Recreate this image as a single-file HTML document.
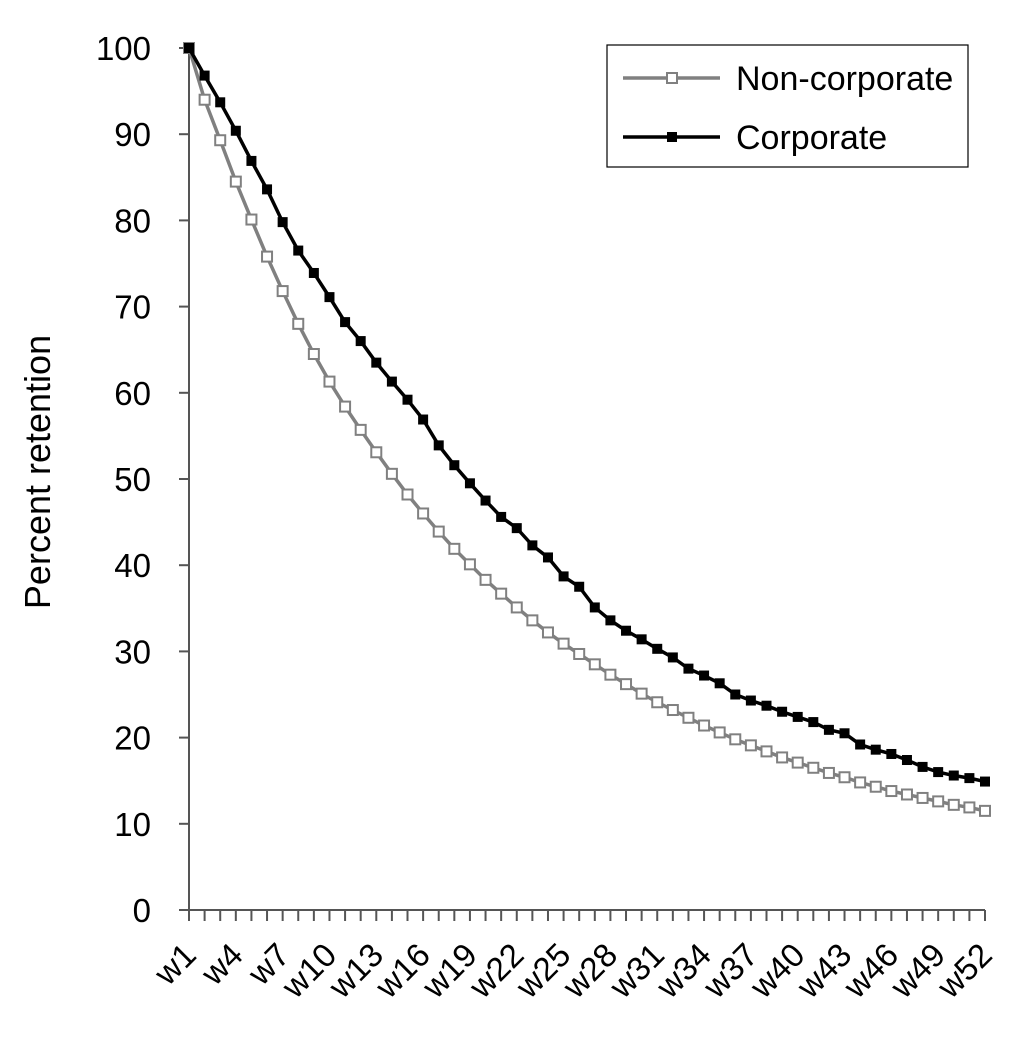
<!DOCTYPE html>
<html><head><meta charset="utf-8"><style>
body{margin:0;background:#fff;}
svg{display:block;font-family:"Liberation Sans",Arial,sans-serif;}
</style></head><body>
<svg id="chart" width="1030" height="1050">
<g id="axes"></g><g id="series"></g>
<text transform="translate(50,472) rotate(-90)" text-anchor="middle" font-size="36" fill="#000">Percent retention</text>
<g>
<rect x="607" y="45" width="361" height="122" fill="#fff" stroke="#000" stroke-width="1.2"/>
<g>
<line x1="623" y1="78" x2="720" y2="78" stroke="#808080" stroke-width="3.5"/>
<rect x="667" y="73" width="10" height="10" fill="#fff" stroke="#808080" stroke-width="2"/>
<text x="736" y="90" font-size="34">Non-corporate</text></g>
<g>
<line x1="623" y1="137" x2="720" y2="137" stroke="#000" stroke-width="3.5"/>
<rect x="667" y="132" width="10" height="10" fill="#000"/>
<text x="736" y="149" font-size="34">Corporate</text></g>
</g>
</svg>
<script>
const categories=[];for(let i=1;i<=52;i++)categories.push('w'+i);
const corporate=[100,96.8,93.7,90.4,86.9,83.6,79.8,76.5,73.9,71.1,68.2,66.0,63.5,61.3,59.2,56.9,53.9,51.6,49.5,47.5,45.6,44.3,42.3,40.9,38.7,37.5,35.1,33.6,32.4,31.4,30.3,29.3,28.0,27.2,26.3,25.0,24.3,23.7,23.0,22.4,21.8,20.9,20.5,19.2,18.6,18.1,17.4,16.6,16.0,15.6,15.3,14.9];
const nonCorporate=[100,94.0,89.3,84.5,80.1,75.8,71.8,68.0,64.5,61.3,58.4,55.7,53.1,50.6,48.2,46.0,43.9,41.9,40.1,38.3,36.7,35.1,33.6,32.2,30.9,29.7,28.5,27.3,26.2,25.1,24.1,23.2,22.3,21.4,20.6,19.8,19.1,18.4,17.7,17.1,16.5,15.9,15.4,14.8,14.3,13.8,13.4,13.0,12.6,12.2,11.9,11.5];
const yTicks=[0,10,20,30,40,50,60,70,80,90,100];
const NS='http://www.w3.org/2000/svg';
const x0=189,x1=985,y0=910,y100=48;
const xs=i=>x0+i*(x1-x0)/(categories.length-1);
const ys=v=>y0-(v/100)*(y0-y100);
function mk(t,a,p){const e=document.createElementNS(NS,t);for(const k in a)e.setAttribute(k,a[k]);p.appendChild(e);return e;}
const ax=document.getElementById('axes');
const ya=mk('line',{x1:x0,y1:ys(100),x2:x0,y2:y0,stroke:'#555','stroke-width':2},ax);


const xa=mk('line',{x1:x0-10,y1:y0,x2:x1,y2:y0,stroke:'#555','stroke-width':2},ax);


yTicks.forEach(v=>{
 mk('line',{x1:x0-10,y1:ys(v),x2:x0,y2:ys(v),stroke:'#555','stroke-width':2},ax);
 const t=mk('text',{x:151,y:ys(v)+12,'text-anchor':'end','font-size':33},ax);t.textContent=v;
 
 
});
categories.forEach((c,i)=>{
 mk('line',{x1:xs(i),y1:y0,x2:xs(i),y2:y0+11,stroke:'#555','stroke-width':2},ax);
 if(i%3===0){
  const t=mk('text',{transform:`translate(${xs(i)+9},${y0+47}) rotate(-45)`,'text-anchor':'end','font-size':33},ax);
  t.textContent=c;
  
  
 }
});
const sg=document.getElementById('series');
function draw(data,color,fill,name){
 const g=mk('g',{},sg);
 
 
 mk('polyline',{points:data.map((v,i)=>xs(i)+','+ys(v)).join(' '),fill:'none',stroke:color,'stroke-width':3.5},g);
 data.forEach((v,i)=>{
  const r=mk('rect',{x:xs(i)-5,y:ys(v)-5,width:10,height:10,fill:fill,stroke:color,'stroke-width':fill==='#fff'?2:0},g);
  
  
 });
}
draw(nonCorporate,'#808080','#fff','series-non-corporate');
draw(corporate,'#000','#000','series-corporate');
</script>
</body></html>
